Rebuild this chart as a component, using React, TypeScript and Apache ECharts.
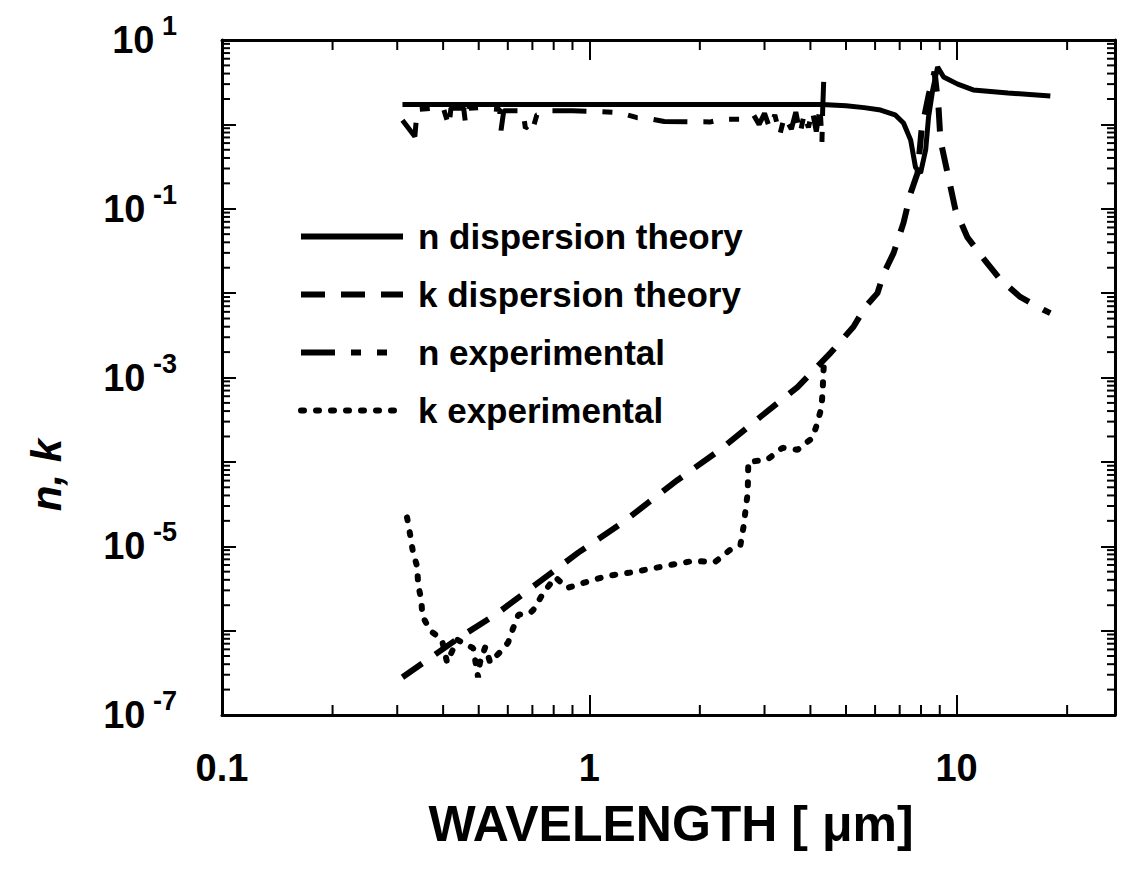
import React, { useEffect, useRef } from 'react';
import * as echarts from 'echarts';

const FONT = '"Liberation Sans", Arial, Helvetica, sans-serif';

const X_MIN = 0.1;
const X_MAX = 27;
const Y_MIN = 1e-7;
const Y_MAX = 10;

const xTickLabels: Record<string, string> = { '-1': '0.1', '0': '1', '1': '10' };
const yLabelExponents = [1, -1, -3, -5, -7];
const minorMultipliers = [2, 3, 4, 5, 6, 7, 8, 9];
const xDecades = [0.1, 1, 10];
const yDecades = [1e-7, 1e-6, 1e-5, 1e-4, 1e-3, 1e-2, 1e-1, 1];

const seriesNames = ['n dispersion theory', 'k dispersion theory', 'n experimental', 'k experimental'];

const nDispersionTheory: [number, number][] = [
  [0.31, 1.72], [1.0, 1.72], [3.0, 1.72], [4.3, 1.72], [5.0, 1.66], [5.6, 1.58], [6.21, 1.48],
  [6.8, 1.3], [7.17, 1.04], [7.5, 0.65], [7.73, 0.31], [7.98, 0.265], [8.24, 0.5], [8.39, 1.22],
  [8.61, 2.56], [8.88, 4.78], [9.22, 3.65], [10.07, 3.0], [11.1, 2.56], [13.8, 2.36], [18.0, 2.17],
];

const kDispersionTheory: [number, number][] = [
  [0.31, 2.8e-7], [0.445, 8.4e-7], [0.555, 1.54e-6], [0.726, 3.7e-6], [0.933, 8.4e-6],
  [1.23, 1.9e-5], [1.74, 6.1e-5], [2.27, 1.39e-4], [2.92, 3.4e-4], [3.69, 7.7e-4],
  [4.54, 1.96e-3], [5.24, 4.0e-3], [5.65, 6.9e-3], [6.09, 1.0e-2], [6.33, 1.7e-2],
  [6.74, 3.0e-2], [7.17, 6.8e-2], [7.5, 0.154], [7.83, 0.265], [8.03, 0.86], [8.39, 2.2],
  [8.71, 4.2], [8.93, 1.6], [9.04, 0.65], [9.45, 0.265], [9.93, 0.097], [10.7, 0.046],
  [11.9, 0.025], [13.2, 0.0143], [14.9, 9.0e-3], [17.3, 6.3e-3], [18.0, 5.8e-3],
];

const nExperimental: [number, number][] = [
  [0.31, 1.12], [0.335, 0.72], [0.34, 1.5], [0.37, 1.55], [0.4, 1.58], [0.415, 0.95],
  [0.42, 1.55], [0.455, 1.55], [0.46, 1.05], [0.47, 1.55], [0.5, 1.58], [0.57, 1.5],
  [0.575, 0.85], [0.585, 1.45], [0.66, 1.45], [0.67, 0.9], [0.69, 1.0], [0.7, 0.85],
  [0.72, 1.3], [0.78, 1.45], [0.9, 1.45], [1.07, 1.42], [1.2, 1.38], [1.35, 1.2],
  [1.42, 1.19], [1.6, 1.08], [2.14, 1.07], [2.3, 1.15], [2.6, 1.15], [2.8, 1.3],
  [2.9, 1.0], [3.0, 1.35], [3.1, 0.9], [3.2, 1.3], [3.3, 0.75], [3.4, 1.25], [3.55, 0.88],
  [3.65, 1.4], [3.75, 0.78], [3.85, 1.35], [3.95, 0.92], [4.05, 1.45], [4.15, 0.82],
  [4.25, 1.6], [4.3, 0.62], [4.32, 1.5], [4.35, 3.5],
];

const kExperimental: [number, number][] = [
  [0.319, 2.2e-5], [0.325, 1.4e-5], [0.331, 8.6e-6], [0.34, 5.7e-6], [0.342, 3.5e-6],
  [0.349, 2.3e-6], [0.351, 1.5e-6], [0.369, 1.0e-6], [0.397, 7.8e-7], [0.41, 4.2e-7],
  [0.437, 7.8e-7], [0.483, 6.2e-7], [0.498, 2.8e-7], [0.504, 4.2e-7], [0.521, 6.4e-7],
  [0.537, 4.2e-7], [0.572, 5.6e-7], [0.601, 7.2e-7], [0.621, 1.08e-6], [0.641, 1.54e-6],
  [0.691, 1.62e-6], [0.704, 1.76e-6], [0.75, 2.8e-6], [0.808, 4.3e-6], [0.871, 3.2e-6],
  [0.988, 3.8e-6], [1.12, 4.45e-6], [1.28, 4.84e-6], [1.47, 5.4e-6], [1.66, 6.0e-6],
  [1.92, 6.7e-6], [2.2, 6.5e-6], [2.42, 9.1e-6], [2.58, 1.04e-5], [2.63, 1.7e-5],
  [2.66, 2.55e-5], [2.7, 4.3e-5], [2.71, 1.0e-4], [3.05, 1.06e-4], [3.36, 1.47e-4],
  [3.69, 1.39e-4], [4.05, 1.92e-4], [4.18, 2.9e-4], [4.29, 4.5e-4], [4.32, 7.1e-4],
  [4.34, 1.16e-3], [4.36, 1.6e-3],
];

const xMinorTicks: number[] = [];
xDecades.forEach((d) => minorMultipliers.forEach((m) => { if (d * m < X_MAX) xMinorTicks.push(d * m); }));
const yMinorTicks: number[] = [];
yDecades.forEach((d) => minorMultipliers.forEach((m) => yMinorTicks.push(d * m)));

function exponentOf(v: number): number | null {
  const l = Math.log10(v);
  const e = Math.round(l);
  return Math.abs(l - e) < 1e-6 ? e : null;
}

export default function App() {
  const ref = useRef<HTMLDivElement>(null);
  useEffect(() => {
    if (!ref.current) return;
    const chart = echarts.init(ref.current, undefined, { renderer: 'svg' });
    const axisLine = { show: true, lineStyle: { color: '#000', width: 3 } };
    const xTick = { show: true, inside: true, length: 20, lineStyle: { color: '#000', width: 2 } };
    const yTick = { show: true, inside: true, length: 14, lineStyle: { color: '#000', width: 2 } };
    const black = '#000';
    const option: any = {
      animation: false,
      backgroundColor: '#fff',
      grid: { left: 222, right: 17, top: 40, bottom: 154, containLabel: false },
      legend: {
        orient: 'vertical',
        left: 293,
        top: 213,
        itemWidth: 102,
        itemHeight: 24,
        itemGap: 21,
        data: seriesNames,
        itemStyle: { opacity: 0 },
        lineStyle: { width: 6 },
        textStyle: {
          fontFamily: FONT, fontSize: 35, fontWeight: 'bold', color: black,
          lineHeight: 37, padding: [0, 0, 0, 10],
        },
      },
      xAxis: [
        {
          type: 'log', logBase: 10, min: X_MIN, max: X_MAX, position: 'bottom',
          axisLine, axisTick: xTick, splitLine: { show: false }, minorTick: { show: false },
          axisLabel: {
            margin: 34, fontFamily: FONT, fontSize: 38, fontWeight: 'bold', color: black,
            formatter: (v: number) => {
              const e = exponentOf(v);
              return e === null ? '' : (xTickLabels[String(e)] ?? '');
            },
          },
        },
        {
          type: 'log', logBase: 10, min: X_MIN, max: X_MAX, position: 'top',
          axisLine, axisTick: xTick, splitLine: { show: false }, axisLabel: { show: false },
        },
      ],
      yAxis: [
        {
          type: 'log', logBase: 10, min: Y_MIN, max: Y_MAX, position: 'left',
          axisLine, axisTick: yTick, splitLine: { show: false },
          axisLabel: {
            margin: 45,
            formatter: (v: number) => {
              const e = exponentOf(v);
              if (e === null || yLabelExponents.indexOf(e) < 0) return '';
              return `{b|10}{s| ${e}}`;
            },
            rich: {
              b: { fontFamily: FONT, fontSize: 38, fontWeight: 'bold', color: black },
              s: { fontFamily: FONT, fontSize: 27, fontWeight: 'bold', color: black, padding: [0, 0, 28, 0] },
            },
          },
        },
        {
          type: 'log', logBase: 10, min: Y_MIN, max: Y_MAX, position: 'right',
          axisLine, axisTick: yTick, splitLine: { show: false }, axisLabel: { show: false },
        },
      ],
      graphic: [
        {
          type: 'text', x: 671, y: 824,
          style: {
            text: 'WAVELENGTH [ μm]', font: `bold 50px ${FONT}`, fill: black,
            textAlign: 'center', textVerticalAlign: 'middle',
          },
        },
        {
          type: 'text', x: 46, y: 475, rotation: Math.PI / 2,
          style: {
            text: 'n, k', font: `italic bold 42px ${FONT}`, fill: black,
            textAlign: 'center', textVerticalAlign: 'middle',
          },
        },
      ],
      series: [
        {
          name: seriesNames[0], type: 'line', data: nDispersionTheory, symbol: 'none',
          lineStyle: { color: black, width: 5, type: 'solid' }, itemStyle: { color: black },
        },
        {
          name: seriesNames[1], type: 'line', data: kDispersionTheory, symbol: 'none',
          lineStyle: { color: black, width: 6, type: [24, 16] }, itemStyle: { color: black },
        },
        {
          name: seriesNames[2], type: 'line', data: nExperimental, symbol: 'none',
          lineStyle: { color: black, width: 5, type: [34, 16, 10, 16, 10, 16] }, itemStyle: { color: black },
        },
        {
          name: seriesNames[3], type: 'line', data: kExperimental, symbol: 'none',
          lineStyle: { color: black, width: 6, type: [3, 12], cap: 'round' }, itemStyle: { color: black },
        },
        {
          type: 'custom', silent: true, clip: false,
          data: xMinorTicks.map((v) => [v, Y_MIN]),
          renderItem: (params: any, api: any) => {
            const v = api.value(0);
            const b = api.coord([v, Y_MIN]);
            const t = api.coord([v, Y_MAX]);
            return {
              type: 'group',
              children: [
                { type: 'line', shape: { x1: b[0], y1: b[1], x2: b[0], y2: b[1] - 10 }, style: { stroke: black, lineWidth: 2 } },
                { type: 'line', shape: { x1: t[0], y1: t[1], x2: t[0], y2: t[1] + 10 }, style: { stroke: black, lineWidth: 2 } },
              ],
            };
          },
        },
        {
          type: 'custom', silent: true, clip: false,
          data: yMinorTicks.map((v) => [X_MIN, v]),
          renderItem: (params: any, api: any) => {
            const v = api.value(1);
            const l = api.coord([X_MIN, v]);
            const r = api.coord([X_MAX, v]);
            return {
              type: 'group',
              children: [
                { type: 'line', shape: { x1: l[0], y1: l[1], x2: l[0] + 8, y2: l[1] }, style: { stroke: black, lineWidth: 2 } },
                { type: 'line', shape: { x1: r[0], y1: r[1], x2: r[0] - 8, y2: r[1] }, style: { stroke: black, lineWidth: 2 } },
              ],
            };
          },
        },
      ],
    };
    chart.setOption(option);
    return () => chart.dispose();
  }, []);
  return <div ref={ref} style={{ position: 'absolute', left: 0, top: 0, width: 1132, height: 869 }} />;
}
